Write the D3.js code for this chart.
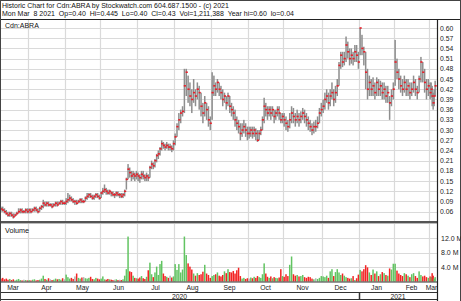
<!DOCTYPE html>
<html><head><meta charset="utf-8">
<script src="https://cdn.jsdelivr.net/npm/d3@7"></script>
<style>body{margin:0;background:#fff}svg{display:block;font-family:"Liberation Sans",Arial,sans-serif}</style>
</head><body><svg id="c" width="461" height="301"></svg>
<script>
// ---- data ----
const titleLine1 = "Historic Chart for Cdn:ABRA by Stockwatch.com 604.687.1500 - (c) 2021";
const titleLine2 = "Mon Mar  8 2021  Op=0.40  Hi=0.445  Lo=0.40  Cl=0.43  Vol=1,211,388  Year hi=0.60  lo=0.04";
const symbol = "Cdn:ABRA";
const months = ["Mar","Apr","May","Jun","Jul","Aug","Sep","Oct","Nov","Dec","Jan","Feb","Mar"];
const monthDays = [17,21,20,22,22,20,21,21,21,21,19,19,6];
const years = ["2020","2021"];
const priceTicks = ["0.06","0.09","0.12","0.15","0.18","0.21","0.24","0.27","0.30","0.33","0.36","0.39","0.42","0.45","0.48","0.51","0.54","0.57","0.60"];
const volTicks = [4,8,12];
const volTickLabels = ["4.0 M","8.0 M","12.0 M"];

const high = [
 0.080,0.075,0.075,0.070,0.065,0.060,0.060,0.060,0.055,0.055,0.060,0.070,0.070,0.070,0.065,0.070,0.070,
 0.070,0.070,0.070,0.075,0.075,0.070,0.075,0.080,0.095,0.090,0.090,0.090,0.085,0.085,0.085,0.090,0.090,0.090,0.095,0.095,0.090,
 0.100,0.115,0.110,0.105,0.100,0.095,0.095,0.095,0.100,0.100,0.095,0.105,0.115,0.115,0.115,0.110,0.110,0.115,0.115,0.110,
 0.120,0.130,0.140,0.130,0.125,0.125,0.120,0.120,0.115,0.120,0.120,0.115,0.115,0.115,0.125,0.160,0.200,0.190,0.180,0.180,0.175,0.180,
 0.175,0.170,0.180,0.180,0.170,0.175,0.170,0.195,0.210,0.205,0.215,0.230,0.240,0.250,0.270,0.265,0.260,0.265,0.260,0.260,0.255,0.270,
 0.290,0.320,0.350,0.360,0.370,0.480,0.480,0.460,0.440,0.420,0.450,0.420,0.440,0.430,0.410,0.380,0.400,0.380,0.370,0.340,
 0.470,0.460,0.440,0.450,0.440,0.430,0.420,0.410,0.400,0.410,0.400,0.380,0.370,0.360,0.340,0.330,0.320,0.320,0.330,0.320,0.310,
 0.310,0.310,0.310,0.310,0.305,0.300,0.300,0.310,0.340,0.395,0.380,0.370,0.370,0.370,0.370,0.360,0.360,0.370,0.370,0.350,0.350,
 0.350,0.340,0.330,0.350,0.370,0.365,0.350,0.360,0.350,0.355,0.365,0.360,0.350,0.340,0.330,0.320,0.325,0.330,0.340,0.365,0.380,
 0.390,0.410,0.420,0.410,0.420,0.440,0.420,0.430,0.450,0.500,0.530,0.530,0.530,0.575,0.560,0.540,0.540,0.530,0.550,0.550,0.530,
 0.600,0.580,0.545,0.530,0.480,0.460,0.450,0.455,0.440,0.455,0.450,0.445,0.440,0.440,0.430,0.430,0.400,0.420,0.440,
 0.565,0.510,0.480,0.460,0.450,0.460,0.450,0.450,0.440,0.440,0.460,0.450,0.430,0.460,0.515,0.500,0.480,0.450,0.450,
 0.440,0.440,0.430,0.410,0.420,0.445
];
const low = [
 0.065,0.060,0.060,0.055,0.050,0.045,0.045,0.045,0.040,0.045,0.050,0.055,0.055,0.055,0.055,0.055,0.055,
 0.055,0.055,0.060,0.060,0.060,0.055,0.060,0.065,0.070,0.075,0.075,0.075,0.075,0.070,0.075,0.075,0.075,0.080,0.080,0.080,0.080,
 0.080,0.085,0.090,0.090,0.085,0.080,0.080,0.085,0.085,0.085,0.085,0.090,0.095,0.100,0.100,0.095,0.095,0.100,0.100,0.095,
 0.100,0.110,0.115,0.110,0.110,0.110,0.105,0.105,0.100,0.105,0.105,0.100,0.100,0.100,0.105,0.125,0.155,0.160,0.150,0.155,0.150,0.155,
 0.150,0.145,0.155,0.155,0.150,0.150,0.150,0.160,0.185,0.185,0.190,0.205,0.215,0.225,0.240,0.245,0.240,0.245,0.240,0.240,0.235,0.240,
 0.255,0.280,0.300,0.320,0.340,0.350,0.400,0.380,0.370,0.350,0.380,0.370,0.390,0.360,0.340,0.320,0.340,0.330,0.310,0.300,
 0.330,0.400,0.400,0.410,0.400,0.390,0.370,0.380,0.360,0.370,0.350,0.340,0.330,0.310,0.300,0.290,0.270,0.280,0.290,0.280,0.270,
 0.275,0.280,0.275,0.280,0.270,0.265,0.270,0.285,0.300,0.320,0.340,0.330,0.340,0.330,0.340,0.320,0.330,0.340,0.330,0.320,0.320,
 0.310,0.300,0.295,0.305,0.320,0.320,0.310,0.320,0.310,0.320,0.330,0.320,0.310,0.300,0.295,0.285,0.290,0.295,0.305,0.320,0.340,
 0.350,0.360,0.380,0.360,0.370,0.390,0.370,0.380,0.400,0.430,0.480,0.485,0.490,0.500,0.510,0.490,0.495,0.490,0.500,0.500,0.480,
 0.520,0.520,0.490,0.420,0.390,0.400,0.400,0.400,0.390,0.400,0.400,0.400,0.390,0.390,0.380,0.380,0.330,0.370,0.390,
 0.430,0.450,0.420,0.410,0.400,0.410,0.400,0.400,0.390,0.400,0.410,0.400,0.390,0.410,0.440,0.440,0.410,0.390,0.400,
 0.390,0.395,0.370,0.360,0.370,0.400
];
const close = [
 0.070,0.068,0.065,0.060,0.055,0.050,0.055,0.050,0.045,0.050,0.055,0.060,0.065,0.060,0.060,0.065,0.060,
 0.065,0.060,0.065,0.070,0.065,0.060,0.070,0.075,0.085,0.080,0.085,0.080,0.080,0.075,0.080,0.085,0.080,0.085,0.090,0.085,0.085,
 0.090,0.095,0.100,0.095,0.090,0.090,0.085,0.090,0.095,0.090,0.090,0.100,0.105,0.110,0.105,0.100,0.105,0.110,0.105,0.100,
 0.115,0.120,0.125,0.120,0.115,0.120,0.115,0.110,0.110,0.115,0.110,0.110,0.105,0.110,0.120,0.155,0.185,0.175,0.165,0.170,0.165,0.170,
 0.165,0.160,0.170,0.165,0.160,0.165,0.160,0.190,0.200,0.195,0.210,0.225,0.230,0.245,0.260,0.255,0.250,0.255,0.250,0.250,0.245,0.260,
 0.280,0.310,0.330,0.350,0.355,0.430,0.470,0.420,0.400,0.390,0.410,0.400,0.420,0.410,0.370,0.350,0.380,0.360,0.330,0.320,
 0.410,0.430,0.420,0.440,0.420,0.410,0.390,0.400,0.380,0.400,0.370,0.360,0.350,0.330,0.320,0.310,0.290,0.300,0.310,0.300,0.290,
 0.290,0.300,0.290,0.300,0.290,0.270,0.290,0.300,0.330,0.370,0.360,0.350,0.360,0.350,0.360,0.340,0.350,0.360,0.350,0.330,0.340,
 0.330,0.320,0.310,0.330,0.350,0.340,0.330,0.340,0.330,0.340,0.350,0.340,0.330,0.320,0.310,0.300,0.310,0.310,0.320,0.350,0.360,
 0.370,0.390,0.400,0.380,0.400,0.410,0.390,0.410,0.430,0.490,0.520,0.500,0.510,0.550,0.530,0.510,0.520,0.510,0.530,0.520,0.500,
 0.600,0.540,0.530,0.470,0.420,0.440,0.420,0.430,0.410,0.440,0.420,0.430,0.410,0.420,0.400,0.410,0.380,0.400,0.420,
 0.500,0.470,0.450,0.430,0.420,0.440,0.420,0.430,0.410,0.420,0.440,0.420,0.410,0.450,0.500,0.470,0.440,0.420,0.430,
 0.410,0.420,0.400,0.380,0.400,0.430
];
// volume in millions
const volume = [
 1.2,0.8,1.0,0.6,0.8,0.5,0.7,0.4,0.6,0.3,0.5,0.7,0.4,0.3,0.5,0.4,0.3,
 0.4,0.3,0.5,0.6,0.3,0.4,0.5,0.8,1.6,0.7,0.5,0.9,0.6,0.4,0.5,0.8,0.6,0.7,0.5,0.9,0.6,
 1.9,1.2,0.8,1.0,0.7,1.4,2.2,1.0,0.8,1.1,1.2,0.9,0.8,1.0,1.3,0.7,0.6,1.0,0.8,0.6,
 0.8,1.4,0.6,0.5,0.7,0.6,0.5,0.4,0.5,0.6,0.4,0.5,0.4,0.6,1.6,3.4,12.4,2.8,2.6,1.6,1.0,0.9,
 0.8,1.1,1.5,0.9,0.7,1.3,3.1,5.2,2.0,1.2,2.5,4.1,1.8,4.8,5.7,2.2,1.5,1.3,1.0,1.6,1.1,1.4,
 4.8,3.2,4.8,2.5,3.3,12.4,7.3,5.0,4.1,3.3,2.2,1.6,2.3,1.8,2.0,2.7,4.6,2.2,1.8,1.0,
 1.5,1.8,2.0,2.5,1.6,1.4,1.8,2.8,2.3,3.4,2.6,2.5,2.9,2.2,3.1,3.8,1.5,0.8,1.0,0.7,0.9,
 0.8,1.1,0.9,1.3,1.0,1.5,1.2,1.0,2.0,5.0,2.2,1.3,1.0,1.4,0.9,1.2,1.0,0.9,1.1,3.4,1.5,
 1.3,2.0,1.5,4.6,6.9,2.0,1.6,1.8,1.4,1.5,1.8,1.2,1.0,1.3,1.2,0.8,0.6,0.9,0.7,1.0,1.5,
 1.4,1.2,1.6,1.0,2.8,3.4,1.5,2.6,3.4,2.5,1.8,2.2,1.6,1.2,1.0,0.8,0.9,1.5,0.4,0.9,1.9,
 3.2,2.8,3.4,4.5,3.9,2.5,1.8,3.3,2.2,2.8,1.5,2.0,2.6,2.3,1.8,1.6,3.6,3.3,4.9,
 4.9,3.0,2.2,1.8,1.5,2.3,2.0,1.6,1.2,2.0,2.3,1.5,1.0,2.8,1.8,1.4,1.6,1.2,1.0,
 1.4,1.2,2.3,1.6,0.8,1.2
];

// ---- layout ----
const W = 461, H = 301;
const plotR = 437;
const priceTop = 20, priceBot = 222;
const volTop = 224, volBot = 282;
const monthRowBot = 292.5, yearRowBot = 299.5;

const svg = d3.select("#c");
const N = close.length;
const starts = [];
{ let s = 0; monthDays.forEach(d => { starts.push(s); s += d; }); }

const x = d3.scaleLinear()
  .domain([starts[1],starts[2],starts[3],starts[4],starts[5],starts[6],starts[7],starts[8],starts[9],starts[10],starts[11],starts[12],N-1])
  .range([28,65,100,137,174,211,248,283,322,359,394,429,434]);
const y = d3.scaleLinear().domain([0.06,0.60]).range([211.7,28]);
const vy = d3.scaleLinear().domain([0,16]).range([281.5,223.5]);

svg.append("rect").attr("width",W).attr("height",H).attr("fill","#fff");

const defs = svg.append("defs");
defs.append("clipPath").attr("id","cp").append("rect").attr("x",0).attr("y",priceTop).attr("width",plotR).attr("height",volBot-priceTop);

const grid = "#dadada";
svg.append("g").selectAll("line").data(priceTicks).join("line")
  .attr("x1",0).attr("x2",plotR).attr("y1",d=>Math.round(y(+d))+0.5).attr("y2",d=>Math.round(y(+d))+0.5)
  .attr("stroke",grid).attr("stroke-width",1.2);
svg.append("g").selectAll("line").data(volTicks).join("line")
  .attr("x1",0).attr("x2",plotR).attr("y1",d=>Math.round(vy(d))+0.5).attr("y2",d=>Math.round(vy(d))+0.5)
  .attr("stroke",grid).attr("stroke-width",1.2);
svg.append("g").selectAll("line").data(starts.slice(1)).join("line")
  .attr("x1",d=>Math.round(x(d))+0.5).attr("x2",d=>Math.round(x(d))+0.5)
  .attr("y1",priceTop).attr("y2",volBot)
  .attr("stroke",grid).attr("stroke-width",1.2);

const gp = svg.append("g").attr("clip-path","url(#cp)");
const idx = d3.range(N);
gp.append("g").selectAll("rect").data(idx).join("rect")
  .attr("x",i=>x(i)+0.4).attr("width",1.5)
  .attr("y",i=>y(high[i])).attr("height",i=>Math.max(1.5,y(low[i])-y(high[i])))
  .attr("fill","#8e8e8e");
gp.append("g").selectAll("rect").data(idx).join("rect")
  .attr("x",i=>x(i)+0.5).attr("width",2.2)
  .attr("y",i=>y(close[i])-0.8).attr("height",1.6)
  .attr("fill","#e8202a");
const vcol = i => { if(i===0) return "#ee2222"; const d = close[i]-close[i-1];
  return Math.abs(d)<1e-9 ? "#b4b4b4" : (d>0 ? "#62c462" : "#f22424"); };
gp.append("g").selectAll("rect").data(idx).join("rect")
  .attr("x",i=>x(i)+0.4).attr("width",1.5)
  .attr("y",i=>vy(volume[i])).attr("height",i=>vy(0)-vy(volume[i]))
  .attr("fill",vcol);

const ln = (x1,y1,x2,y2,c,w) => svg.append("line").attr("x1",x1).attr("y1",y1).attr("x2",x2).attr("y2",y2).attr("stroke",c).attr("stroke-width",w);
ln(0,19.5,W,19.5,"#222",1);
ln(0,222,plotR,222,"#555",2);
ln(0,223.5,plotR,223.5,"#bbb",1);
ln(0,282,plotR,282,"#333",1.2);
ln(0,monthRowBot,plotR,monthRowBot,"#333",1);
ln(0,yearRowBot,plotR,yearRowBot,"#333",1);
ln(plotR+0.5,19.5,plotR+0.5,H,"#222",1.2);
ln(0.5,0,0.5,H,"#444",1);
ln(W-0.5,0,W-0.5,H,"#444",1);
ln(0,0.5,W,0.5,"#444",1);
ln(Math.round(x(starts[10]))+0.5,monthRowBot,Math.round(x(starts[10]))+0.5,yearRowBot,"#333",1.5);

const txt = (s,xx,yy,size) => svg.append("text").attr("x",xx).attr("y",yy).attr("font-size",size)
  .attr("fill","#111").attr("xml:space","preserve").style("white-space","pre").text(s);
txt(titleLine1,2,7.5,7.0);
txt(titleLine2,2,15.5,7.0);
txt(symbol,5,27.5,7.0);
txt("Volume",5,232.5,7.2);

svg.append("g").selectAll("text").data(priceTicks).join("text")
  .attr("x",440).attr("y",d=>y(+d)+2.5).attr("font-size",6.8).attr("fill","#222").text(d=>d);
svg.append("g").selectAll("text").data(volTicks).join("text")
  .attr("x",441).attr("y",d=>vy(d)+2.5).attr("font-size",7).attr("fill","#222").text((d,i)=>volTickLabels[i]);

const gm = svg.append("g");
months.forEach((m,k) => {
  const s = x(starts[k]);
  const e = k < months.length-1 ? x(starts[k+1]) : x(N-1);
  const a = Math.max(s, x(0)), b = Math.min(e, plotR);
  gm.append("text").attr("x",(a+b)/2).attr("y",290).attr("font-size",6.8).attr("text-anchor","middle")
    .attr("fill","#222").text(m);
});
defs.append("clipPath").attr("id","cpm").append("rect").attr("x",0).attr("y",282).attr("width",plotR).attr("height",12);
gm.attr("clip-path","url(#cpm)");
const jan = x(starts[10]);
svg.append("g").selectAll("text").data(years).join("text")
  .attr("x",(d,i)=> i===0 ? jan/2 : (jan+plotR)/2).attr("y",298.5).attr("font-size",6.8)
  .attr("text-anchor","middle").attr("fill","#222").text(d=>d);
</script></body></html>
